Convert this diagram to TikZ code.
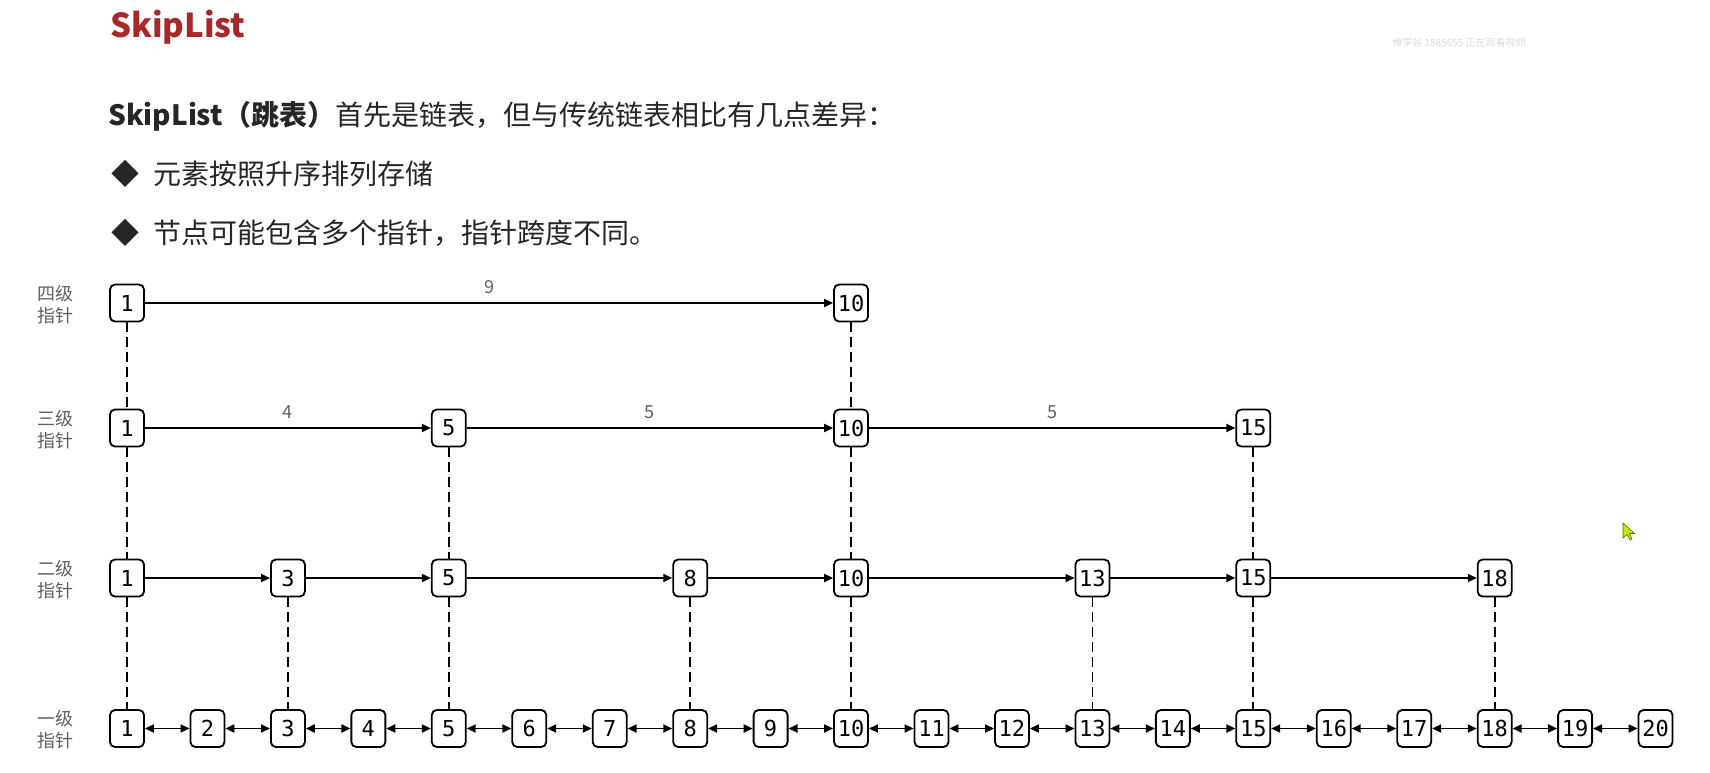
\documentclass[tikz,border=0pt]{standalone}
\usepackage{fontspec}
\setmainfont{Noto Sans CJK SC}
\newfontfamily\monofont{DejaVu Sans Mono}
\usetikzlibrary{arrows.meta}
\definecolor{titlered}{RGB}{166,40,40}
\definecolor{lblgray}{RGB}{95,95,95}
\tikzset{
  box/.style={draw, line width=1.8pt, rounded corners=5pt, minimum width=34pt, minimum height=37pt, inner sep=1pt, font=\monofont\fontsize{22pt}{22pt}\selectfont},
  arr/.style={line width=1.8pt, -{Triangle[length=9pt,width=8pt]}},
  dbl/.style={line width=1.8pt, {Triangle[length=9pt,width=8pt]}-{Triangle[length=9pt,width=8pt]}},
  dsh/.style={line width=1.8pt, dash pattern=on 10pt off 5pt},
  lvl/.style={align=center, text=lblgray, font=\fontsize{18pt}{22pt}\selectfont, inner sep=0pt},
  spanlbl/.style={midway, yshift=16pt, text=lblgray, font=\fontsize{18pt}{18pt}\selectfont, inner sep=0pt},
  txt/.style={anchor=base west, inner sep=0pt, font=\fontsize{28pt}{34pt}\selectfont, text=black!85}
}
\begin{document}
\begin{tikzpicture}[x=1pt,y=-1pt]
\useasboundingbox (0,0) rectangle (1710,772);
% header texts
\node[anchor=base west, inner sep=0pt, text=titlered, font=\bfseries\fontsize{33pt}{38pt}\selectfont] (title) at (110,37) {SkipList};
\node[anchor=center, inner sep=0pt, text=black!15, font=\fontsize{10pt}{10pt}\selectfont] (wm) at (1459,43) {博学谷 1885655 正在观看视频};
\node[txt] (line1) at (108,125) {\textbf{SkipList（跳表）}首先是链表，但与传统链表相比有几点差异：};
\node[txt] (b1) at (111,184) {◆};
\node[txt] (t1) at (153,184) {元素按照升序排列存储};
\node[txt] (b2) at (111,243) {◆};
\node[txt] (t2) at (153,243) {节点可能包含多个指针，指针跨度不同。};
% level labels
\node[lvl] (l4) at (55,305) {四级\\指针};
\node[lvl] (l3) at (55,430) {三级\\指针};
\node[lvl] (l2) at (55,580) {二级\\指针};
\node[lvl] (l1) at (55,730) {一级\\指针};
% nodes
\foreach \i in {1,...,20} \node[box] (a\i) at ({127+(\i-1)*80.45},728.5) {\i};
\foreach \i in {1,3,5,8,10,13,15,18} \node[box] (b\i) at ({127+(\i-1)*80.45},578) {\i};
\foreach \i in {1,5,10,15} \node[box] (c\i) at ({127+(\i-1)*80.45},428) {\i};
\foreach \i in {1,10} \node[box] (d\i) at ({127+(\i-1)*80.45},303) {\i};
% level 1 links
\foreach \i [evaluate=\i as \j using int(\i+1)] in {1,...,19} \draw[dbl] (a\i) -- (a\j);
% level 2 links
\foreach \p/\q in {1/3,3/5,5/8,8/10,10/13,13/15,15/18} \draw[arr] (b\p) -- (b\q);
% level 3 links
\draw[arr] (c1) -- node[spanlbl]{4} (c5);
\draw[arr] (c5) -- node[spanlbl]{5} (c10);
\draw[arr] (c10) -- node[spanlbl]{5} (c15);
% level 4 link
\draw[arr] (d1) -- node[spanlbl]{9} (d10);
% vertical dashed
\foreach \i in {1,3,5,8,10,13,15,18} \draw[dsh] (b\i) -- (a\i);
\foreach \i in {1,5,10,15} \draw[dsh] (c\i) -- (b\i);
\foreach \i in {1,10} \draw[dsh] (d\i) -- (c\i);
% cursor
\filldraw[fill={rgb,255:red,200;green,230;blue,0}, draw={rgb,255:red,90;green,100;blue,0}, line width=0.6pt]
  (1623,523) -- (1623,538) -- (1627,534.5) -- (1630,540) -- (1632,539) -- (1629.5,533.5) -- (1634.5,533.5) -- cycle;
\end{tikzpicture}
\end{document}
